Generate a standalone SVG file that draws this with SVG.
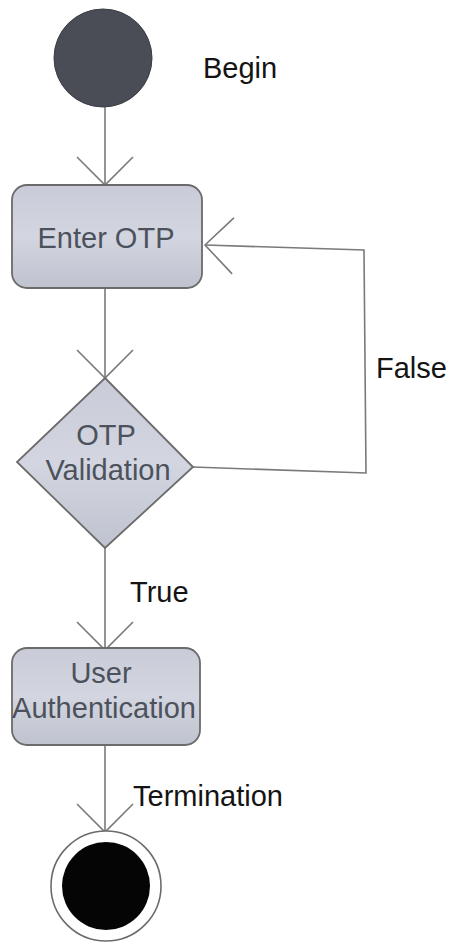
<svg xmlns="http://www.w3.org/2000/svg" width="459" height="951" viewBox="0 0 459 951">
  <style>
    .conn { fill: none; stroke: #7a7a7a; stroke-width: 1.6; }
    .node { fill: url(#nodeFill); stroke: #6b6b6b; stroke-width: 1.8; }
    .ntext { font-family: "Liberation Sans", Arial, sans-serif; font-size: 29px; fill: #4c525c; text-anchor: middle; }
    .label { font-family: "Liberation Sans", Arial, sans-serif; font-size: 29px; fill: #141414; }
  </style>
  <defs>
    <linearGradient id="nodeFill" x1="0" y1="0" x2="0" y2="1">
      <stop offset="0" stop-color="#c9ccd8"/>
      <stop offset="0.5" stop-color="#d3d6e0"/>
      <stop offset="1" stop-color="#bfc3cf"/>
    </linearGradient>
    <marker id="open" viewBox="0 0 30 60" refX="29" refY="30" markerWidth="30" markerHeight="60" markerUnits="userSpaceOnUse" orient="auto" overflow="visible">
      <path d="M1,2 L29,30 L1,58" fill="none" stroke="#7a7a7a" stroke-width="1.6"/>
    </marker>
  </defs>
  <rect width="459" height="951" fill="#ffffff"/>

  <!-- connectors -->
  <g id="connectors">
    <path class="conn" d="M105,107 L105,185" marker-end="url(#open)"/>
    <path class="conn" d="M105,288 L105,378" marker-end="url(#open)"/>
    <path class="conn" d="M193,467 L366,473 L364,250 L205,245" marker-end="url(#open)"/>
    <path class="conn" d="M105,548 L105,650" marker-end="url(#open)"/>
    <path class="conn" d="M105,745 L105,832" marker-end="url(#open)"/>
    <text class="label" x="376" y="378">False</text>
    <text class="label" x="130" y="602">True</text>
    <text class="label" x="133" y="806">Termination</text>
  </g>

  <!-- start state -->
  <g id="start">
    <circle cx="103" cy="58" r="49" fill="#4a4c56" stroke="#3a3c44" stroke-width="1"/>
    <text class="label" x="203" y="78">Begin</text>
  </g>

  <!-- Enter OTP activity -->
  <g id="enterOtp">
    <rect class="node" x="12" y="185" width="190" height="103" rx="15" ry="15"/>
    <text class="ntext" x="106" y="248">Enter OTP</text>
  </g>

  <!-- OTP validation decision -->
  <g id="otpValidation">
    <polygon class="node" points="105,378 193,467 105,548 17,462"/>
    <text class="ntext" x="106" y="445">OTP</text>
    <text class="ntext" x="108" y="480">Validation</text>
  </g>

  <!-- User Authentication activity -->
  <g id="userAuth">
    <rect class="node" x="12" y="648" width="188" height="97" rx="15" ry="15"/>
    <text class="ntext" x="101" y="683">User</text>
    <text class="ntext" x="104" y="718">Authentication</text>
  </g>

  <!-- final state -->
  <g id="end">
    <circle cx="106" cy="886" r="55" fill="#ffffff" stroke="#6b6b6b" stroke-width="1.6"/>
    <circle cx="106" cy="886" r="44" fill="#050505"/>
  </g>
</svg>
